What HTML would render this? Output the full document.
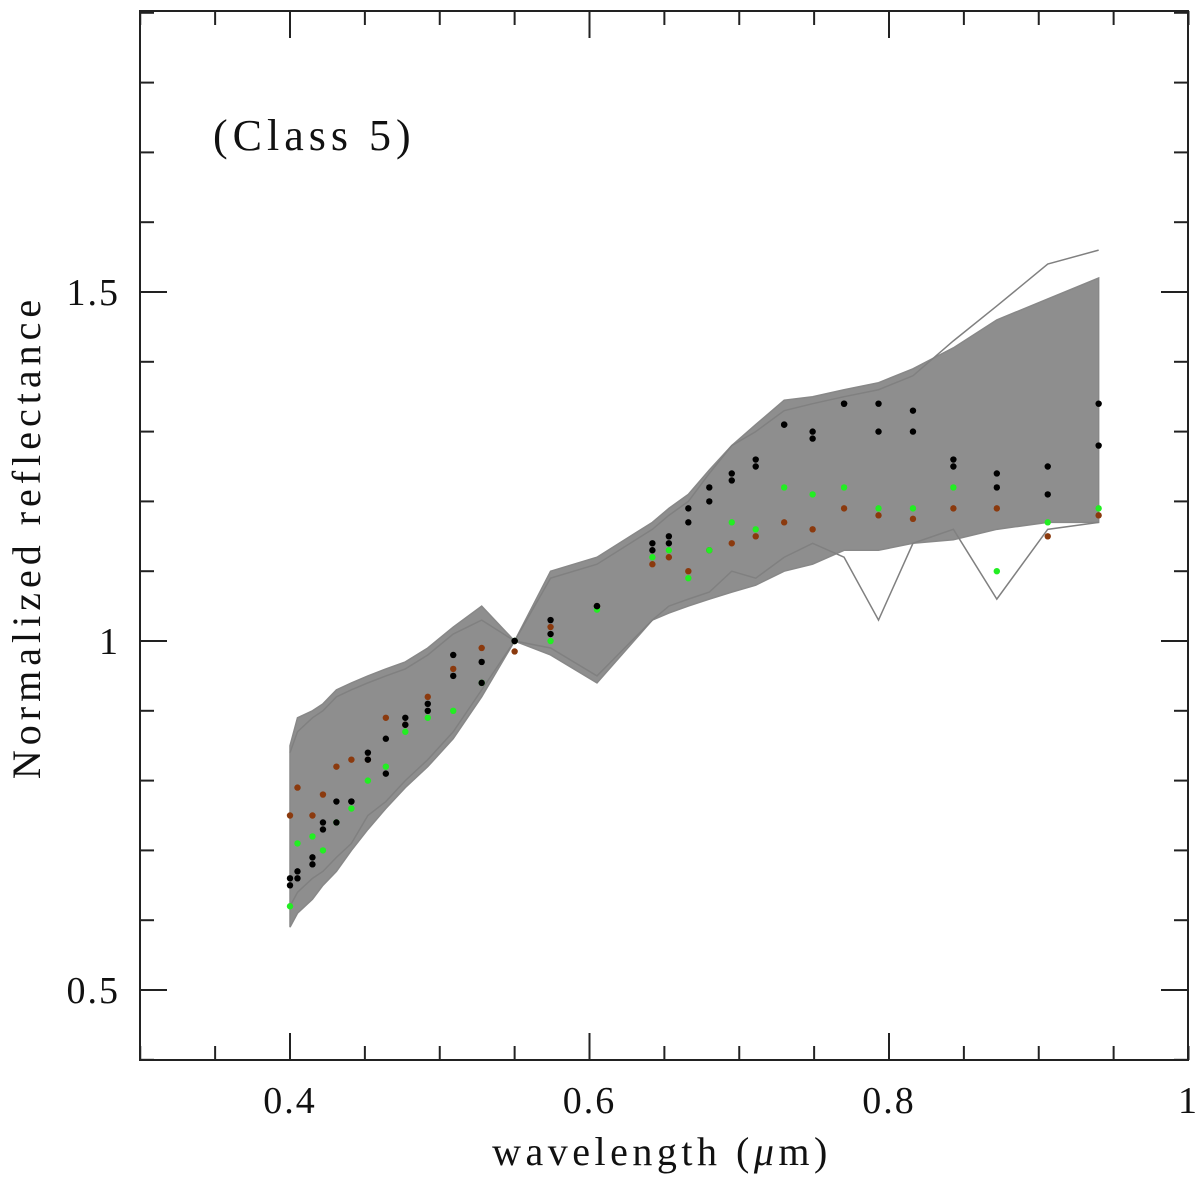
<!DOCTYPE html>
<html><head><meta charset="utf-8"><style>
body{margin:0;background:#fff}
svg text{font-family:"Liberation Serif",serif;fill:#111}
</style></head><body>
<svg id="chart" width="1200" height="1185" xmlns="http://www.w3.org/2000/svg">
<g id="band"></g>
<g id="dots"></g>
<rect x="140" y="11" width="1048" height="1049" fill="none" stroke="#222" stroke-width="2"/>
<g id="ticks" stroke="#222" stroke-width="2"></g>
<g id="labels" font-size="38" letter-spacing="2"></g>
<text x="662" y="1165" font-size="40" text-anchor="middle" letter-spacing="4.5">wavelength (<tspan font-style="italic">μ</tspan>m)</text>
<text transform="translate(40,537) rotate(-90)" font-size="40" text-anchor="middle" letter-spacing="5">Normalized reflectance</text>
<text x="213" y="150" font-size="44" letter-spacing="5">(Class 5)</text>
</svg>
<script>
const wl=[0.40,0.405,0.415,0.422,0.431,0.441,0.452,0.464,0.477,0.492,0.509,0.528,0.55,0.574,0.605,0.642,0.653,0.666,0.68,0.695,0.711,0.73,0.749,0.77,0.793,0.816,0.843,0.872,0.906,0.94];
const upper=[0.85,0.89,0.90,0.91,0.93,0.94,0.95,0.96,0.97,0.99,1.02,1.05,1.0,1.10,1.12,1.17,1.19,1.21,1.245,1.28,1.31,1.345,1.35,1.36,1.37,1.39,1.42,1.46,1.49,1.52];
const lower=[0.59,0.61,0.63,0.65,0.67,0.70,0.73,0.76,0.79,0.82,0.86,0.92,1.0,0.98,0.94,1.03,1.04,1.05,1.06,1.07,1.08,1.10,1.11,1.13,1.13,1.14,1.145,1.16,1.17,1.17];
const outlierHigh=[0.84,0.87,0.89,0.90,0.92,0.93,0.94,0.95,0.96,0.98,1.01,1.03,1.0,1.09,1.11,1.16,1.18,1.20,1.24,1.28,1.30,1.33,1.34,1.35,1.36,1.38,1.43,1.48,1.54,1.56];
const outlierLow=[0.62,0.64,0.66,0.67,0.69,0.71,0.75,0.77,0.80,0.83,0.87,0.93,1.0,0.99,0.95,1.03,1.05,1.06,1.07,1.10,1.09,1.12,1.14,1.12,1.03,1.14,1.16,1.06,1.16,1.17];
const black1=[0.66,0.67,0.68,0.74,0.77,0.77,0.84,0.86,0.89,0.91,0.98,0.97,1.0,1.03,1.05,1.14,1.15,1.19,1.22,1.24,1.26,1.31,1.30,1.34,1.34,1.33,1.26,1.24,1.25,1.34];
const black2=[0.65,0.66,0.69,0.73,0.74,0.77,0.83,0.81,0.88,0.90,0.95,0.94,1.0,1.01,1.05,1.13,1.14,1.17,1.20,1.23,1.25,1.31,1.29,1.34,1.30,1.30,1.25,1.22,1.21,1.28];
const brown=[0.75,0.79,0.75,0.78,0.82,0.83,0.83,0.89,0.88,0.92,0.96,0.99,0.985,1.02,1.05,1.11,1.12,1.10,1.13,1.14,1.15,1.17,1.16,1.19,1.18,1.175,1.19,1.19,1.15,1.18];
const green=[0.62,0.71,0.72,0.70,0.74,0.76,0.80,0.82,0.87,0.89,0.90,0.94,1.0,1.0,1.045,1.12,1.13,1.09,1.13,1.17,1.16,1.22,1.21,1.22,1.19,1.19,1.22,1.10,1.17,1.19];
const xTickLabels=["0.4","0.6","0.8","1"];
const yTickLabels=["0.5","1","1.5"];
const NS="http://www.w3.org/2000/svg";
const X=v=>290+(v-0.4)*1497.5;
const Y=v=>641-(v-1)*698;
function mk(t,p,a){const e=document.createElementNS(NS,t);for(const k in a)e.setAttribute(k,a[k]);p.appendChild(e);return e;}
const band=document.getElementById('band');
let pts=wl.map((w,i)=>X(w)+','+Y(upper[i])).concat(wl.map((w,i)=>X(w)+','+Y(lower[i])).reverse());
let poly=mk('polygon',band,{points:pts.join(' '),fill:'#8e8e8e',stroke:'#888','stroke-width':1.5});


[outlierHigh,outlierLow].forEach(s=>{
 const l=mk('polyline',band,{points:wl.map((w,i)=>X(w)+','+Y(s[i])).join(' '),fill:'none',stroke:'#808080','stroke-width':1.5});
 
 
});
const dots=document.getElementById('dots');
[[brown,'#8b3a0e'],[green,'#22ee22'],[black1,'#000'],[black2,'#000']].forEach(([s,c])=>{
 s.forEach((v,i)=>{
  const d=mk('circle',dots,{cx:X(wl[i]),cy:Y(v),r:3.2,fill:c});
  
  
 });
});
const tk=document.getElementById('ticks');
for(let k=0;k<=14;k++){const v=0.3+k*0.05;const x=X(v);const L=(Math.abs(v-0.4)<1e-6||Math.abs(v-0.6)<1e-6||Math.abs(v-0.8)<1e-6)?27:14;
 mk('line',tk,{x1:x,y1:1060,x2:x,y2:1060-L});mk('line',tk,{x1:x,y1:11,x2:x,y2:11+L});}
for(let k=0;k<=15;k++){const v=0.4+k*0.1;const y=Y(v);if(y<11)continue;const isM=[0.5,1,1.5].some(m=>Math.abs(m-v)<1e-6);const L=isM?27:14;
 mk('line',tk,{x1:140,y1:y,x2:140+L,y2:y});mk('line',tk,{x1:1188,y1:y,x2:1188-L,y2:y});}
const lb=document.getElementById('labels');
xTickLabels.forEach(t=>{const e=mk('text',lb,{x:X(parseFloat(t)),y:1113,'text-anchor':'middle'});e.textContent=t;
 
 });
yTickLabels.forEach(t=>{const e=mk('text',lb,{x:120,y:Y(parseFloat(t))+13,'text-anchor':'end'});e.textContent=t;
 
 });
</script>
</body></html>
